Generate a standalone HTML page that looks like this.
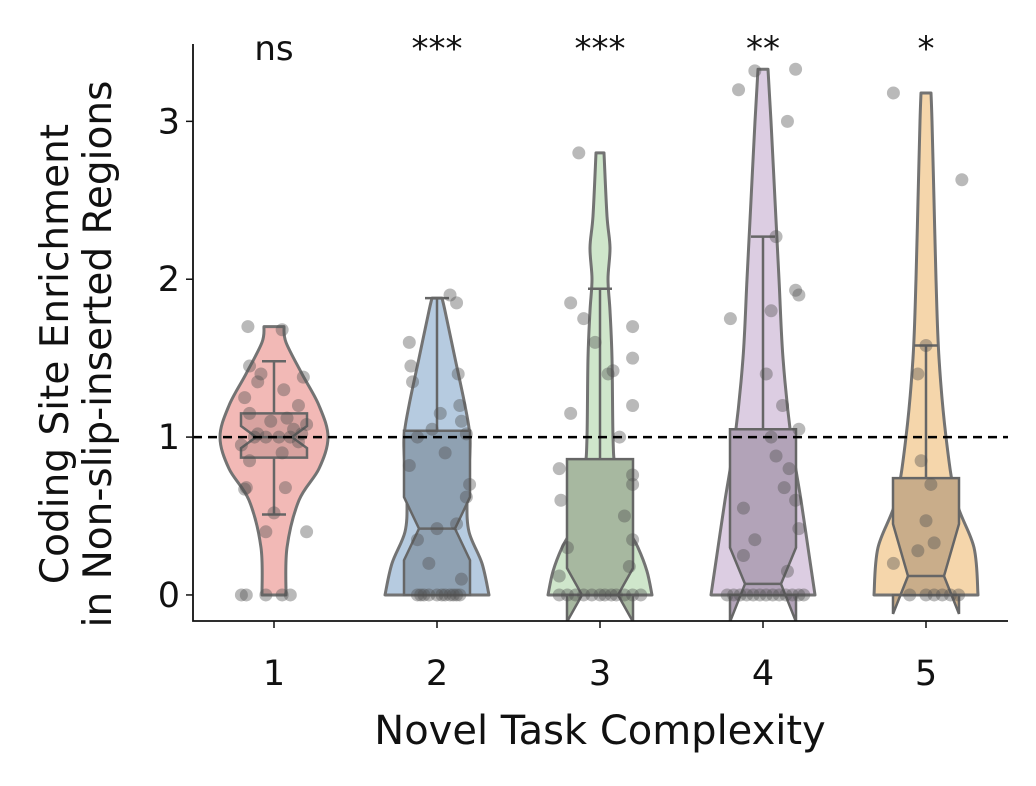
<!DOCTYPE html>
<html><head><meta charset="utf-8"><style>
body{margin:0;background:#fff;}
svg text{font-family:"DejaVu Sans","Liberation Sans",sans-serif;fill:#111;}
</style></head><body>
<svg id="chart" width="1036" height="781"></svg>
<script>
const categories=["1","2","3","4","5"];
const sigLabels=["ns","***","***","**","*"];
const yTicks=[0,1,2,3];
const violinLevels=[
 [0,0.3,0.6,0.8,1.0,1.2,1.4,1.6,1.7],
 [0,0.2,0.4,0.6,0.8,1.0,1.2,1.5,1.8,1.88],
 [0,0.15,0.3,0.5,0.8,1.0,1.5,1.8,2.0,2.2,2.4,2.8],
 [0,0.3,0.6,1.0,1.5,2.0,2.5,3.0,3.33],
 [0,0.3,0.6,1.0,1.5,2.0,2.5,3.0,3.18]];
const violinDensity=[
 [12,13,25,45,54,45,28,12,10],
 [52,45,32,30,32,33,28,18,8,5],
 [52,47,38,22,15,13,12,10,8,10,7,4],
 [52,45,38,28,20,16,12,8,5],
 [52,48,30,20,13,10,8,6,5]];
const q1=[0.87,0,0,0,0];
const medians=[1.0,0.42,0,0.07,0.12];
const q3=[1.15,1.04,0.86,1.05,0.74];
const whiskLo=[0.51,0,0,0,0];
const whiskHi=[1.48,1.88,1.94,2.27,1.58];
const notchLo=[0.93,0.22,-0.17,-0.17,-0.12];
const notchHi=[1.07,0.62,0.17,0.3,0.45];
const pointsY=[
 [0,0,0,0,0,0.4,0.4,0.52,0.67,0.68,0.68,0.85,0.9,0.95,0.97,1,1,1,1,1.02,1.02,1.05,1.08,1.1,1.12,1.15,1.2,1.25,1.3,1.35,1.38,1.4,1.45,1.68,1.7],
 [0,0,0,0,0,0,0,0,0,0,0,0.1,0.2,0.35,0.42,0.45,0.62,0.7,0.82,0.9,1.0,1.02,1.05,1.1,1.15,1.2,1.35,1.4,1.45,1.6,1.85,1.9],
 [0,0,0,0,0,0,0,0,0,0,0,0,0.12,0.18,0.3,0.35,0.5,0.6,0.7,0.76,0.8,1.0,1.15,1.2,1.4,1.42,1.5,1.6,1.7,1.75,1.85,2.8],
 [0,0,0,0,0,0,0,0,0,0,0,0,0,0.15,0.25,0.35,0.42,0.55,0.6,0.68,0.8,0.88,1.0,1.05,1.2,1.4,1.75,1.8,1.9,1.93,2.27,3.0,3.2,3.32,3.33],
 [0,0,0,0,0,0,0.2,0.28,0.33,0.47,0.7,0.85,1.4,1.58,2.63,3.18]];
const pointsOff=[
 [-0.2,-0.17,-0.05,0.05,0.1,0.2,-0.05,0.0,-0.18,-0.17,0.07,-0.15,0.05,-0.2,0.15,-0.12,-0.05,0.03,0.1,0.17,-0.1,0.12,0.2,-0.02,0.08,-0.15,0.15,-0.18,0.06,-0.1,0.18,-0.08,-0.15,0.05,-0.16],
 [-0.1,-0.05,0.0,0.05,0.1,0.12,-0.08,0.03,-0.12,0.08,0.14,0.15,-0.05,-0.12,0.0,0.12,0.18,0.2,-0.17,0.05,-0.12,0.18,-0.03,0.15,0.02,0.14,-0.15,0.13,-0.16,-0.17,0.12,0.08],
 [-0.25,-0.2,-0.15,-0.1,-0.05,0.0,0.03,0.07,0.1,0.15,0.2,0.25,-0.25,0.18,-0.2,0.2,0.15,-0.24,0.2,0.2,-0.25,0.12,-0.18,0.2,0.05,0.08,0.2,-0.03,0.2,-0.1,-0.18,-0.13],
 [-0.22,-0.18,-0.14,-0.1,-0.06,-0.02,0.02,0.06,0.1,0.14,0.18,0.22,0.25,0.15,-0.12,-0.05,0.22,-0.12,0.2,0.13,0.16,0.08,0.05,0.22,0.12,0.02,-0.2,0.05,0.22,0.2,0.08,0.15,-0.15,-0.05,0.2],
 [-0.1,0.0,0.05,0.1,0.15,0.2,-0.2,-0.05,0.05,0.0,0.03,-0.03,-0.05,0.0,0.22,-0.2]];
const fills=["#f2b9b6","#b6cbe0","#cfe6cb","#dccde2","#f5d6ab"];
const boxFills=["#d8a3a0","#8fa1b2","#a7b8a0","#b2a3b8","#c9ad8a"];

const svg=document.getElementById('chart');
const NS='http://www.w3.org/2000/svg';
const L=193,R=1008,T=44,B=621;
const yMin=-0.165,yMax=3.49;
const Y=v=>B-(v-yMin)/(yMax-yMin)*(B-T);
const X=i=>274+i*163;
const catW=163;
function mk(tag,attrs,parent){const e=document.createElementNS(NS,tag);for(const k in attrs)e.setAttribute(k,attrs[k]);(parent||svg).appendChild(e);return e;}
const clip=mk('clipPath',{id:'plotclip'});mk('rect',{x:L,y:T-30,width:R-L,height:B-T+30},clip);
const plot=mk('g',{'clip-path':'url(#plotclip)'});
function smooth(pts){let d='M'+pts[0][0]+','+pts[0][1];for(let i=0;i<pts.length-1;i++){const p0=pts[Math.max(0,i-1)],p1=pts[i],p2=pts[i+1],p3=pts[Math.min(pts.length-1,i+2)];const c1=[p1[0]+(p2[0]-p0[0])/6,p1[1]+(p2[1]-p0[1])/6],c2=[p2[0]-(p3[0]-p1[0])/6,p2[1]-(p3[1]-p1[1])/6];d+=' C'+c1[0]+','+c1[1]+' '+c2[0]+','+c2[1]+' '+p2[0]+','+p2[1];}return d;}
categories.forEach((c,i)=>{
 const cx=X(i);
 const right=violinLevels[i].map((v,k)=>[cx+violinDensity[i][k],Y(v)]);
 const left=violinLevels[i].map((v,k)=>[cx-violinDensity[i][k],Y(v)]).reverse();
 let d=smooth(right);
 d+=' L'+left[0][0]+','+left[0][1];
 d+=smooth(left).replace(/^M[^C]*/,'');
 d+=' Z';
 const v=mk('path',{d:d,fill:fills[i],stroke:'#737373','stroke-width':3,'stroke-linejoin':'round'},plot);
 
 
 const g=mk('g',{},plot);
 
 
 const hw=33,nw=18;
 mk('line',{x1:cx,x2:cx,y1:Y(q3[i]),y2:Y(whiskHi[i]),stroke:'#666','stroke-width':2.5},g);
 mk('line',{x1:cx,x2:cx,y1:Y(q1[i]),y2:Y(whiskLo[i]),stroke:'#666','stroke-width':2.5},g);
 mk('line',{x1:cx-12,x2:cx+12,y1:Y(whiskHi[i]),y2:Y(whiskHi[i]),stroke:'#666','stroke-width':2.5},g);
 mk('line',{x1:cx-12,x2:cx+12,y1:Y(whiskLo[i]),y2:Y(whiskLo[i]),stroke:'#666','stroke-width':2.5},g);
 const p=[[cx-hw,Y(q1[i])],[cx-hw,Y(notchLo[i])],[cx-nw,Y(medians[i])],[cx-hw,Y(notchHi[i])],[cx-hw,Y(q3[i])],[cx+hw,Y(q3[i])],[cx+hw,Y(notchHi[i])],[cx+nw,Y(medians[i])],[cx+hw,Y(notchLo[i])],[cx+hw,Y(q1[i])]];
 mk('polygon',{points:p.map(q=>q.join(',')).join(' '),fill:boxFills[i],stroke:'#666','stroke-width':2.5,'stroke-linejoin':'miter'},g);
 mk('line',{x1:cx-nw,x2:cx+nw,y1:Y(medians[i]),y2:Y(medians[i]),stroke:'#666','stroke-width':2.5},g);
 pointsY[i].forEach((y,k)=>{
  const pt=mk('circle',{cx:cx+pointsOff[i][k]*catW,cy:Y(y),r:6.5,fill:'rgba(80,80,80,0.4)'},plot);
  
  
 });
 const s=mk('text',{x:cx,y:60,'text-anchor':'middle','font-size':34});
 s.textContent=sigLabels[i];
 
 
 mk('line',{x1:cx,x2:cx,y1:B,y2:B+7,stroke:'#111','stroke-width':1.5});
 const t=mk('text',{x:cx,y:685,'text-anchor':'middle','font-size':35});
 t.textContent=c;
 
 
});
const ref=mk('line',{x1:L,x2:R,y1:Y(1),y2:Y(1),stroke:'#000','stroke-width':2.5,'stroke-dasharray':'9,6'});


yTicks.forEach(v=>{
 mk('line',{x1:L-7,x2:L,y1:Y(v),y2:Y(v),stroke:'#111','stroke-width':1.5});
 const t=mk('text',{x:L-13,y:Y(v)+12,'text-anchor':'end','font-size':35});
 t.textContent=v;
 
 
});
const ax=mk('path',{d:`M${L},${T} L${L},${B} L${R},${B}`,fill:'none',stroke:'#111','stroke-width':1.8});


const xt=mk('text',{x:600,y:744,'text-anchor':'middle','font-size':40});
xt.textContent='Novel Task Complexity';


const yt=mk('text',{transform:'translate(68,354) rotate(-90)','text-anchor':'middle','font-size':39});


const l1=mk('tspan',{x:0,y:0},yt);l1.textContent='Coding Site Enrichment';
const l2=mk('tspan',{x:0,y:43},yt);l2.textContent='in Non-slip-inserted Regions';
</script>
</body></html>
